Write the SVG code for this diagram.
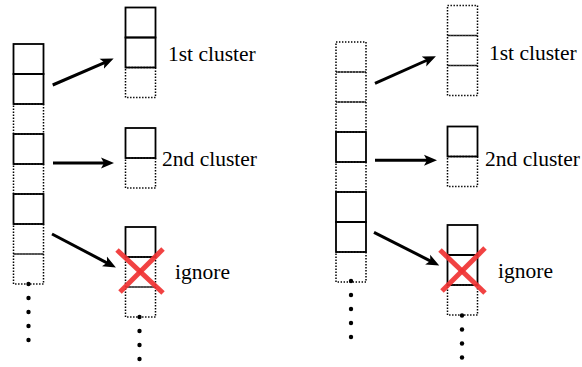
<svg xmlns="http://www.w3.org/2000/svg" width="582" height="367" viewBox="0 0 582 367">
<style>
.s{fill:none;stroke:#000;stroke-width:1.8}
.d{fill:none;stroke:#000;stroke-width:1.5;stroke-dasharray:1.4 1.6}
.dot{fill:#000}
.x{stroke:#f03232;stroke-width:5;stroke-opacity:0.92}
.t{font-family:'Liberation Serif','DejaVu Serif',serif;font-size:21.5px;fill:#000}
.a{fill:none;stroke:#000;stroke-width:3;marker-end:url(#ah)}
</style>
<defs>
<marker id="ah" markerUnits="userSpaceOnUse" markerWidth="14" markerHeight="12" refX="5" refY="5.5" orient="auto" viewBox="0 0 14 11">
<path d="M0,0 L13,5.5 L0,11 L3,5.5 z" fill="#000"/>
</marker>
</defs>
<rect width="582" height="367" fill="#fff"/>

<g id="L-src">
<rect class="d" x="13.5" y="104" width="30" height="30"/>
<rect class="d" x="13.5" y="164" width="30" height="30"/>
<rect class="d" x="13.5" y="224" width="30" height="30"/>
<rect class="d" x="13.5" y="254" width="30" height="30"/>
<rect class="s" x="13.5" y="44" width="30" height="30"/>
<rect class="s" x="13.5" y="74" width="30" height="30"/>
<rect class="s" x="13.5" y="134" width="30" height="30"/>
<rect class="s" x="13.5" y="194" width="30" height="30"/>
<circle class="dot" cx="28.5" cy="284" r="2.2"/>
<circle class="dot" cx="28.5" cy="298" r="2.2"/>
<circle class="dot" cx="28.5" cy="312" r="2.2"/>
<circle class="dot" cx="28.5" cy="326" r="2.2"/>
<circle class="dot" cx="28.5" cy="340" r="2.2"/>
</g>

<g id="L-c1">
<rect class="d" x="125.5" y="67.5" width="30" height="30"/>
<rect class="s" x="125.5" y="7.5" width="30" height="30"/>
<rect class="s" x="125.5" y="37.5" width="30" height="30"/>
<text class="t" font-family="Liberation Serif, serif" x="168" y="61">1st cluster</text>
</g>

<g id="L-c2">
<rect class="d" x="125.5" y="158" width="30" height="30"/>
<rect class="s" x="125.5" y="128" width="30" height="30"/>
<text class="t" font-family="Liberation Serif, serif" x="162" y="166">2nd cluster</text>
</g>

<g id="L-ign">
<rect class="d" x="125.5" y="257" width="30" height="30"/>
<rect class="d" x="125.5" y="287" width="30" height="30"/>
<rect class="s" x="125.5" y="227" width="30" height="30"/>
<circle class="dot" cx="139.5" cy="317" r="2.2"/>
<circle class="dot" cx="139.5" cy="331" r="2.2"/>
<circle class="dot" cx="139.5" cy="345" r="2.2"/>
<circle class="dot" cx="139.5" cy="359" r="2.2"/>
<line class="x" x1="117" y1="250" x2="163" y2="293"/>
<line class="x" x1="163" y1="249" x2="120" y2="292"/>
<text class="t" font-family="Liberation Serif, serif" x="175" y="279">ignore</text>
</g>

<g id="R-src">
<rect class="d" x="336" y="42" width="30" height="30"/>
<rect class="d" x="336" y="72" width="30" height="30"/>
<rect class="d" x="336" y="102" width="30" height="30"/>
<rect class="d" x="336" y="162" width="30" height="30"/>
<rect class="d" x="336" y="252" width="30" height="30"/>
<rect class="s" x="336" y="132" width="30" height="30"/>
<rect class="s" x="336" y="192" width="30" height="30"/>
<rect class="s" x="336" y="222" width="30" height="30"/>
<circle class="dot" cx="351" cy="281" r="2.2"/>
<circle class="dot" cx="351" cy="295" r="2.2"/>
<circle class="dot" cx="351" cy="309" r="2.2"/>
<circle class="dot" cx="351" cy="323" r="2.2"/>
<circle class="dot" cx="351" cy="337" r="2.2"/>
</g>

<g id="R-c1">
<rect class="d" x="447.5" y="5.5" width="30" height="30"/>
<rect class="d" x="447.5" y="35.5" width="30" height="30"/>
<rect class="d" x="447.5" y="65.5" width="30" height="30"/>
<text class="t" font-family="Liberation Serif, serif" x="489" y="60">1st cluster</text>
</g>

<g id="R-c2">
<rect class="d" x="447.5" y="156.5" width="30" height="30"/>
<rect class="s" x="447.5" y="126.5" width="30" height="30"/>
<text class="t" font-family="Liberation Serif, serif" x="485" y="166">2nd cluster</text>
</g>

<g id="R-ign">
<rect class="d" x="447.5" y="285" width="30" height="30"/>
<rect class="s" x="447.5" y="225" width="30" height="30"/>
<rect class="s" x="447.5" y="255" width="30" height="30"/>
<circle class="dot" cx="462" cy="315.5" r="2.2"/>
<circle class="dot" cx="462" cy="329.5" r="2.2"/>
<circle class="dot" cx="462" cy="343.5" r="2.2"/>
<circle class="dot" cx="462" cy="357.5" r="2.2"/>
<line class="x" x1="440" y1="250" x2="485" y2="293"/>
<line class="x" x1="485" y1="248" x2="442" y2="291"/>
<text class="t" font-family="Liberation Serif, serif" x="498" y="278">ignore</text>
</g>

<g id="connectors">
<path class="a" d="M52.7,85 L106.3,61.8"/>
<path class="a" d="M53,163 L106,163"/>
<path class="a" d="M52,234 L108.8,263.8"/>
<path class="a" d="M375,83.3 L428.6,59.5"/>
<path class="a" d="M375,160.3 L429,160.3"/>
<path class="a" d="M374,232.3 L432.1,261.8"/>
</g>
</svg>
